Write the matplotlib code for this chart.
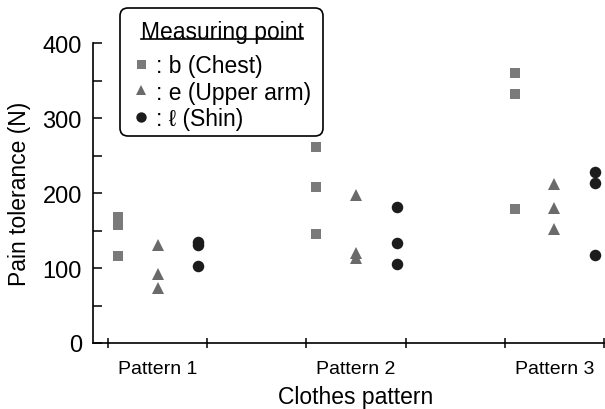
import matplotlib
matplotlib.use("Agg")
import matplotlib.pyplot as plt
from matplotlib.lines import Line2D
from matplotlib.patches import FancyBboxPatch
from matplotlib.transforms import IdentityTransform

plt.rcParams['font.family'] = ['Liberation Sans', 'DejaVu Sans']

patterns = ["Pattern 1", "Pattern 2", "Pattern 3"]
chest = [[168, 158, 116], [262, 208, 145], [360, 332, 179]]
upper_arm = [[131, 92, 73], [197, 120, 113], [212, 180, 152]]
shin = [[135, 131, 103], [182, 133, 106], [228, 214, 117]]

labels = [": b (Chest)", ": e (Upper arm)", ": \u2113 (Shin)"]
centers = [2 * i + 1 for i in range(len(patterns))]

W, H = 605, 410
fig = plt.figure(figsize=(W / 100, H / 100), dpi=100)
ax = fig.add_axes([93 / W, 1 - 344 / H, 511 / W, 299.7 / H])

series = [
    (chest, -0.40, 's', '#7a7a7a', 7.2),
    (upper_arm, 0.0, '^', '#6a6a6a', 8.0),
    (shin, 0.41, 'o', '#1c1c1c', 8.3),
]
handles = []
for vals, off, mk, col, ms in series:
    xs, ys = [], []
    for c, group in zip(centers, vals):
        xs += [c + off] * len(group)
        ys += group
    h, = ax.plot(xs, ys, linestyle='none', marker=mk, color=col,
                 markersize=ms, markeredgewidth=0, clip_on=False)
    handles.append(h)

ax.set_xlim(0.349, 5.5)
ax.set_ylim(0, 400)
ax.spines['top'].set_visible(False)
ax.spines['right'].set_visible(False)
for s in ['left', 'bottom']:
    ax.spines[s].set_linewidth(1.2)

ax.set_yticks([0, 100, 200, 300, 400])
ax.set_yticks([50, 150, 250, 350], minor=True)
ax.tick_params(axis='y', which='both', direction='in', length=6.5, width=1.1,
               labelsize=17, pad=8)

ax.set_xticks(centers)
ax.set_xticklabels(patterns)
ax.set_xticks([0.5, 1.5, 2.5, 3.5, 4.5, 5.5], minor=True)
ax.tick_params(axis='x', which='major', length=0, labelsize=14, pad=12)
ax.tick_params(axis='x', which='minor', direction='inout', length=7.7, width=1.1)

ax.set_ylabel("Pain tolerance (N)", fontsize=16.5, labelpad=8)
ax.set_xlabel("Clothes pattern", fontsize=16.5, labelpad=6)
ax.xaxis.label.set_x(0.513)

# legend frame drawn separately (rounded box, partly above the axes)
box = FancyBboxPatch((120, H - 137), 203, 128,
                     boxstyle='round,pad=0,rounding_size=8',
                     transform=IdentityTransform(), facecolor='white',
                     edgecolor='black', linewidth=1.2, zorder=4,
                     clip_on=False)
ax.add_artist(box)

leg = ax.legend(handles, labels, title="Measuring point", loc='upper left',
                bbox_to_anchor=(133 / W, 1 - 20.5 / H),
                bbox_transform=fig.transFigure, borderaxespad=0,
                fontsize=16.5, title_fontsize=16.5, frameon=False,
                handlelength=0.7, handletextpad=0.3, labelspacing=0.14,
                borderpad=0, markerscale=0.9, numpoints=1)
leg.set_zorder(5)
leg._legend_box.sep = 8.5

# underline the legend title
fig.canvas.draw()
bb = leg.get_title().get_window_extent(fig.canvas.get_renderer())
inv = fig.transFigure.inverted()
(x0, y0), (x1, _) = inv.transform([(bb.x0, bb.y0 + 3.5), (bb.x1, bb.y0 + 3.5)])
fig.add_artist(Line2D([x0, x1], [y0, y0], transform=fig.transFigure,
                      color='black', lw=1.2, zorder=6))

fig.savefig("out.png", dpi=100)
